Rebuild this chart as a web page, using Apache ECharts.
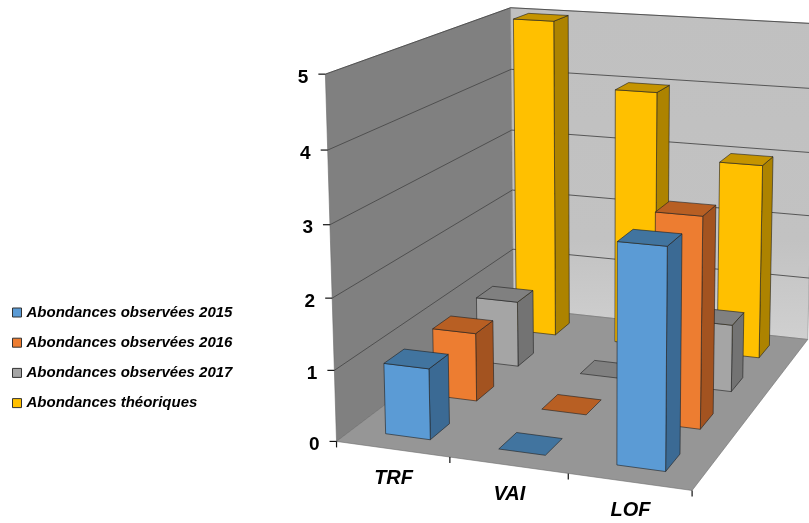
<!DOCTYPE html>
<html><head><meta charset="utf-8">
<style>html,body{margin:0;padding:0;background:#fff}#c{width:809px;height:523px;filter:blur(0.45px)}</style>
<script src="https://cdn.jsdelivr.net/npm/echarts@6/dist/echarts.min.js"></script>
</head><body><div id="c"></div>
<script>
const categories = ['TRF', 'VAI', 'LOF'];
const values2015 = [1, 0, 3];
const values2016 = [1, 0, 3];
const values2017 = [1, 0, 1];
const valuesTheo = [5, 4, 3];
const valueTicks = [0, 1, 2, 3, 4, 5];
const seriesNames = ['Abondances observées 2015', 'Abondances observées 2016', 'Abondances observées 2017', 'Abondances théoriques'];

const MAXV = 5;
const palette = [
  {front:'#5b9bd5', side:'#3b6a94', top:'#41749f'},
  {front:'#ed7d31', side:'#a35320', top:'#b85f23'},
  {front:'#a5a5a5', side:'#737373', top:'#808080'},
  {front:'#ffc000', side:'#ad8300', top:'#c59400'}
];
// calibration of the 3D frame: [x, depth, value/max] -> pixel
const calib = [
  [0,0,0,337,442],[1,0,0,692,490],[1,1,0,808,340],[0,1,0,513,307],
  [0,0,1,325,74],[0,1,1,511,8],[1,1,1,815,23.5]
];
function solveProjection(pts){
  const rows=[],rhs=[];
  pts.forEach(([X,Y,Z,u,v])=>{
    rows.push([X,Y,Z,1,0,0,0,0,-u*X,-u*Y,-u*Z]);rhs.push(u);
    rows.push([0,0,0,0,X,Y,Z,1,-v*X,-v*Y,-v*Z]);rhs.push(v);
  });
  const n=11,A=[];
  for(let i=0;i<n;i++){A.push(new Array(n+1).fill(0));
    for(let j=0;j<n;j++)rows.forEach(r=>A[i][j]+=r[i]*r[j]);
    rows.forEach((r,k)=>A[i][n]+=r[i]*rhs[k]);}
  for(let i=0;i<n;i++){let m=i;for(let k=i+1;k<n;k++)if(Math.abs(A[k][i])>Math.abs(A[m][i]))m=k;
    [A[i],A[m]]=[A[m],A[i]];
    for(let k=0;k<n;k++){if(k===i)continue;const f=A[k][i]/A[i][i];for(let j=i;j<=n;j++)A[k][j]-=f*A[i][j];}}
  return A.map((r,i)=>r[n]/r[i]);
}
const P=solveProjection(calib);
function proj(x,d,val){const z=val/MAXV,w=P[8]*x+P[9]*d+P[10]*z+1;
  return [(P[0]*x+P[1]*d+P[2]*z+P[3])/w,(P[4]*x+P[5]*d+P[6]*z+P[7])/w];}

const GAP_X=0.30, GAP_D=0.30, NC=categories.length, NS=seriesNames.length;
const edge={stroke:'rgba(30,30,30,0.75)',lineWidth:0.8,lineJoin:'round'};
const poly=(pts,fill,st)=>({type:'polygon',silent:true,shape:{points:pts},style:Object.assign({fill},st||edge)});

function barItem(row){
  return function(params,api){
    const c=api.value(0),v=api.value(1);
    const x0=(c+GAP_X)/NC,x1=(c+1-GAP_X)/NC,d0=(row+GAP_D)/NS,d1=(row+1-GAP_D)/NS;
    const col=palette[row],ch=[];
    if(v>0){
      ch.push(poly([proj(x1,d0,0),proj(x1,d1,0),proj(x1,d1,v),proj(x1,d0,v)],col.side));
      ch.push(poly([proj(x0,d0,0),proj(x1,d0,0),proj(x1,d0,v),proj(x0,d0,v)],col.front));
    }
    ch.push(poly([proj(x0,d0,v),proj(x1,d0,v),proj(x1,d1,v),proj(x0,d1,v)],col.top));
    return {type:'group',children:ch};
  };
}
const tickStyle={stroke:'#111',lineWidth:1.2};
const gridStyle={stroke:'#4a4a4a',lineWidth:0.9};
function frameItem(params,api){
  const v=api.value(0),ch=[];
  if(params.dataIndex===0){
    ch.push(poly([proj(0,0,0),proj(0,1,0),proj(0,1,MAXV),proj(0,0,MAXV)],'#808080',{stroke:'#6a6a6a',lineWidth:0.6}));
    ch.push(poly([proj(0,1,0),proj(1,1,0),proj(1,1,MAXV),proj(0,1,MAXV)],
      new echarts.graphic.LinearGradient(0,0,0,1,[{offset:0,color:'#c0c0c0'},{offset:0.7,color:'#c2c2c2'},{offset:1,color:'#d0d0d0'}]),{stroke:'#8a8a8a',lineWidth:0.6}));
    ch.push(poly([proj(0,0,0),proj(1,0,0),proj(1,1,0),proj(0,1,0)],'#969696',{stroke:'#707070',lineWidth:0.6}));
  }
  const a=proj(0,0,v),b=proj(0,1,v),c=proj(1,1,v);
  if(v>0){
    ch.push({type:'polyline',silent:true,shape:{points:[a,b,c]},style:Object.assign({fill:null},gridStyle)});
  }
  ch.push({type:'line',silent:true,shape:{x1:a[0]-7,y1:a[1],x2:a[0],y2:a[1]},style:tickStyle});
  ch.push({type:'text',silent:true,style:{text:String(v),x:a[0]-17,y:a[1]+3.5,align:'right',verticalAlign:'middle',
    fontFamily:'"Liberation Sans",Arial,sans-serif',fontWeight:'bold',fontSize:19,fill:'#000'}});
  return {type:'group',children:ch};
}
function catItem(params,api){
  const i=api.value(0),ch=[];
  const m=proj((i+0.5)/NC,0,0),t=proj((i+1)/NC,0,0);
  ch.push({type:'line',silent:true,shape:{x1:t[0],y1:t[1],x2:t[0],y2:t[1]+6},style:tickStyle});
  if(i===0){const o=proj(0,0,0);ch.push({type:'line',silent:true,shape:{x1:o[0],y1:o[1],x2:o[0],y2:o[1]+6},style:tickStyle});}
  ch.push({type:'text',silent:true,style:{text:categories[i],x:m[0]+1,y:m[1]+29,align:'center',verticalAlign:'middle',
    fontFamily:'"Liberation Sans",Arial,sans-serif',fontWeight:'bold',fontStyle:'italic',fontSize:20,fill:'#000'}});
  return {type:'group',children:ch};
}
const allValues=[values2015,values2016,values2017,valuesTheo];
const barSeries=[3,2,1,0].map(r=>({
  type:'custom',name:seriesNames[r],coordinateSystem:'none',renderItem:barItem(r),
  itemStyle:{color:palette[r].front},animation:false,silent:true,clip:false,
  data:allValues[r].map((v,i)=>[i,v]),dimensions:['cat','val'],encode:{}
}));
const chart=echarts.init(document.getElementById('c'),null,{renderer:'canvas'});
chart.setOption({
  animation:false,
  backgroundColor:'#fff',
  legend:{
    orient:'vertical',left:7,top:300,selectedMode:false,icon:'rect',itemWidth:9,itemHeight:9,itemGap:15.2,
    textStyle:{fontFamily:'"Liberation Sans",Arial,sans-serif',fontWeight:'bold',fontStyle:'italic',fontSize:15,color:'#000',lineHeight:15},
    data:seriesNames.map((n,r)=>({name:n,icon:'rect',itemStyle:{color:palette[r].front,borderColor:'#333',borderWidth:1}}))
  },
  series:[
    {type:'custom',name:'cadre',coordinateSystem:'none',renderItem:frameItem,animation:false,silent:true,data:valueTicks.map(v=>[v])},
    {type:'custom',name:'categories',coordinateSystem:'none',renderItem:catItem,animation:false,silent:true,data:categories.map((c,i)=>[i])}
  ].concat(barSeries)
});
</script></body></html>
